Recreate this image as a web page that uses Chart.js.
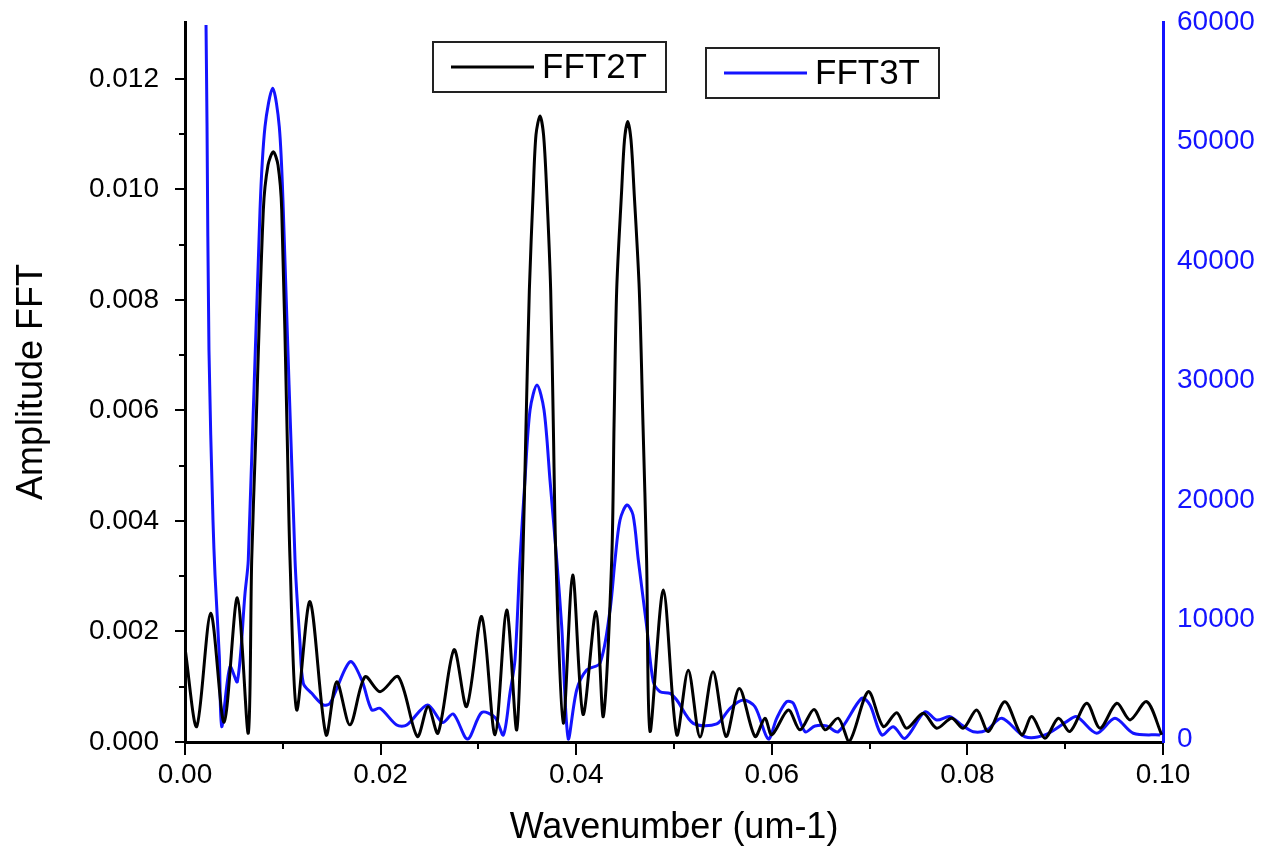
<!DOCTYPE html>
<html>
<head>
<meta charset="utf-8">
<title>FFT2T / FFT3T</title>
<script src="https://cdn.jsdelivr.net/npm/chart.js@4.4.1/dist/chart.umd.min.js"></script>
<style>
  html, body { margin: 0; padding: 0; background: #fff; }
  #wrap { width: 1264px; height: 853px; }
</style>
</head>
<body>
<div id="wrap"><canvas id="fftChart" width="1264" height="853"></canvas></div>
<script>
// --- Data ---
// FFT2T (left axis, black)
const fft2X = [0.0000, 0.0012, 0.00263, 0.0040, 0.00535, 0.00647, 0.00682, 0.00719, 0.00801, 0.00849,
  0.00903, 0.00951, 0.00989, 0.01048, 0.01074, 0.01142, 0.01278, 0.01442, 0.01551, 0.01687,
  0.01840, 0.01994, 0.02181, 0.02375, 0.02485, 0.02587, 0.02751, 0.02880, 0.03034, 0.03170,
  0.03289, 0.03392, 0.03454, 0.03487, 0.03521, 0.03561, 0.03589, 0.03630, 0.03666, 0.03698,
  0.03739, 0.03766, 0.03793, 0.03868, 0.03964, 0.04070, 0.04202, 0.04277, 0.04363, 0.04387,
  0.04414, 0.04465, 0.04494, 0.04527, 0.04560, 0.04591, 0.04645, 0.04683, 0.04720, 0.04755,
  0.04891, 0.05028, 0.05146, 0.05266, 0.05399, 0.05532, 0.05668, 0.05828, 0.05930, 0.06000,
  0.06169, 0.06288, 0.06431, 0.06544, 0.06680, 0.06793, 0.06987, 0.07140, 0.07277, 0.07379,
  0.07549, 0.07686, 0.07840, 0.07958, 0.08095, 0.08214, 0.08384, 0.08555, 0.08658, 0.08793,
  0.08930, 0.09049, 0.09220, 0.09356, 0.09527, 0.09663, 0.09833, 0.09987];
const fft2Y = [0.00170, 0.00028, 0.00233, 0.00036, 0.00261, 0.00016, 0.00329, 0.00529, 0.00963, 0.01044,
  0.01068, 0.01044, 0.00963, 0.00529, 0.00329, 0.00058, 0.00254, 0.00013, 0.00109, 0.00031,
  0.00118, 0.00091, 0.00118, 0.00010, 0.00064, 0.00016, 0.00167, 0.00064, 0.00227, 0.00013,
  0.00239, 0.00022, 0.00329, 0.00574, 0.00818, 0.00999, 0.01099, 0.01133, 0.01099, 0.00999,
  0.00818, 0.00574, 0.00329, 0.00034, 0.00302, 0.00050, 0.00236, 0.00046, 0.00329, 0.00574,
  0.00818, 0.00999, 0.01090, 0.01123, 0.01090, 0.00999, 0.00818, 0.00574, 0.00329, 0.00019,
  0.00275, 0.00013, 0.00130, 0.00009, 0.00127, 0.00010, 0.00097, 0.00010, 0.00043, 0.00013,
  0.00058, 0.00022, 0.00059, 0.00022, 0.00043, 0.00001, 0.00091, 0.00028, 0.00053, 0.00025,
  0.00052, 0.00025, 0.00043, 0.00025, 0.00058, 0.00019, 0.00073, 0.00013, 0.00046, 0.00007,
  0.00043, 0.00019, 0.00070, 0.00025, 0.00070, 0.00040, 0.00073, 0.00013];

// FFT3T (right axis, blue)
const fft3X = [0.00215, 0.00225, 0.00245, 0.00286, 0.00307, 0.00351, 0.00375, 0.0046, 0.00535, 0.00614,
  0.00647, 0.00767, 0.00818, 0.00897, 0.00964, 0.01005, 0.01125, 0.01176, 0.0121, 0.01296,
  0.01414, 0.01483, 0.01687, 0.01807, 0.01909, 0.01994, 0.02165, 0.02267, 0.0248, 0.02633,
  0.02743, 0.02889, 0.03034, 0.0317, 0.03255, 0.03323, 0.03374, 0.03425, 0.03476, 0.03528,
  0.03599, 0.03671, 0.03732, 0.03801, 0.03852, 0.03919, 0.04005, 0.04107, 0.04243, 0.04346,
  0.04397, 0.04448, 0.04519, 0.04581, 0.04635, 0.04721, 0.04788, 0.04857, 0.04959, 0.05028,
  0.05197, 0.05437, 0.05573, 0.05709, 0.05828, 0.05964, 0.0605, 0.06152, 0.0622, 0.0634,
  0.06442, 0.06561, 0.0668, 0.06919, 0.07004, 0.07124, 0.07242, 0.07362, 0.07566, 0.07686,
  0.07822, 0.07942, 0.0806, 0.08197, 0.08351, 0.08589, 0.08793, 0.09015, 0.09117, 0.09322,
  0.09509, 0.09696, 0.09969];
const fft3Y = [59750, 51550, 32550, 18330, 13720, 6890, 1030, 6050, 4800, 12220,
  14980, 44270, 51240, 54450, 51240, 44270, 14980, 8030, 4660, 3820,
  2850, 2990, 6470, 4940, 2430, 2570, 1170, 1170, 2850, 1380,
  2090, 0, 2220, 1800, 340, 3850, 6610, 14980, 21670, 27530,
  29620, 27530, 21670, 14980, 9400, 0, 4100, 5770, 6340, 10800,
  14980, 18330, 19580, 18740, 14980, 9400, 4800, 3960, 3820, 3260,
  1310, 1260, 2570, 3260, 2700, 0, 1730, 3120, 2990, 610,
  1090, 1090, 610, 3410, 2850, 340, 1030, 60, 2280, 1590,
  1870, 1170, 610, 750, 1730, 190, 340, 1450, 1870, 480,
  1730, 480, 340];

const seriesLabels = ['FFT2T', 'FFT3T'];
const xTicks = [0, 0.02, 0.04, 0.06, 0.08, 0.10];
const xMinorTicks = [0.01, 0.03, 0.05, 0.07, 0.09];
const yTicks = [0, 0.002, 0.004, 0.006, 0.008, 0.010, 0.012];
const yMinorTicks = [0.001, 0.003, 0.005, 0.007, 0.009, 0.011];
const y2Ticks = [0, 10000, 20000, 30000, 40000, 50000, 60000];

const BLUE = '#1414ff';
const FONT = "'Liberation Sans', Arial, sans-serif";

const toPoints = (xs, ys) => xs.map((x, i) => ({ x: x, y: ys[i] }));
const setTicks = list => scale => { scale.ticks = list.map(v => ({ value: v })); };
// fixed box size, and no extra room for labels hanging past the ends
const fixSize = (w, h) => s => {
    if (w) s.width = w;
    if (h) s.height = h;
    s.paddingTop = 0; s.paddingBottom = 0; s.paddingLeft = 0; s.paddingRight = 0;
};

// minor tick marks (Chart.js only draws one tick length)
const minorTicks = {
    id: 'minorTicks',
    afterDraw(chart) {
        const ctx = chart.ctx;
        const xs = chart.scales.x, ys = chart.scales.y;
        const area = chart.chartArea;
        ctx.save();
        ctx.strokeStyle = '#000';
        ctx.lineWidth = 2;
        ctx.beginPath();
        xMinorTicks.forEach(v => {
            const px = Math.round(xs.getPixelForValue(v));
            ctx.moveTo(px, area.bottom);
            ctx.lineTo(px, area.bottom + 7);
        });
        yMinorTicks.forEach(v => {
            const py = Math.round(ys.getPixelForValue(v));
            ctx.moveTo(area.left, py);
            ctx.lineTo(area.left - 6, py);
        });
        ctx.stroke();
        ctx.restore();
    }
};

// two separate framed legend boxes, as in the original figure
const legendBoxes = {
    id: 'legendBoxes',
    afterDraw(chart) {
        const ctx = chart.ctx;
        const boxes = [
            { x: 433, y: 42, w: 233, h: 50 },
            { x: 706, y: 48, w: 233, h: 50 }
        ];
        ctx.save();
        boxes.forEach((b, i) => {
            const ds = chart.data.datasets[i];
            ctx.fillStyle = '#fff';
            ctx.fillRect(b.x, b.y, b.w, b.h);
            ctx.strokeStyle = '#222';
            ctx.lineWidth = 2;
            ctx.strokeRect(b.x, b.y, b.w, b.h);
            const cy = b.y + b.h / 2;
            ctx.strokeStyle = ds.borderColor;
            ctx.lineWidth = 3;
            ctx.beginPath();
            ctx.moveTo(b.x + 18, cy);
            ctx.lineTo(b.x + 101, cy);
            ctx.stroke();
            ctx.fillStyle = '#000';
            ctx.font = '35px ' + FONT;
            ctx.textBaseline = 'middle';
            ctx.textAlign = 'left';
            ctx.fillText(ds.label, b.x + 109, cy + 1);
        });
        ctx.restore();
    }
};

const ctx = document.getElementById('fftChart').getContext('2d');
new Chart(ctx, {
    type: 'line',
    data: {
        datasets: [
            {
                label: seriesLabels[0],
                data: toPoints(fft2X, fft2Y),
                borderColor: '#000',
                borderWidth: 3,
                pointRadius: 0,
                tension: 0.3,
                yAxisID: 'y'
            },
            {
                label: seriesLabels[1],
                data: toPoints(fft3X, fft3Y),
                borderColor: BLUE,
                borderWidth: 3,
                pointRadius: 0,
                tension: 0.3,
                yAxisID: 'y2'
            }
        ]
    },
    options: {
        responsive: false,
        animation: false,
        layout: { padding: { top: 22, left: 0, right: 0, bottom: 0 } },
        plugins: {
            legend: { display: false },
            tooltip: { enabled: false }
        },
        scales: {
            x: {
                type: 'linear',
                min: 0,
                max: 0.1,
                afterBuildTicks: setTicks(xTicks),
                afterFit: fixSize(0, 111),
                border: { display: true, color: '#000', width: 3 },
                grid: { drawOnChartArea: false, drawTicks: true, tickLength: 13, color: '#000', lineWidth: 2 },
                ticks: {
                    color: '#000',
                    padding: 3,
                    maxRotation: 0,
                    font: { family: FONT, size: 28 },
                    callback: v => v.toFixed(2)
                },
                title: {
                    display: true,
                    text: 'Wavenumber (um-1)',
                    color: '#000',
                    padding: { top: 0, bottom: 3 },
                    font: { family: FONT, size: 36 }
                }
            },
            y: {
                position: 'left',
                min: 0,
                max: 0.01303,
                afterBuildTicks: setTicks(yTicks),
                afterFit: fixSize(185, 0),
                border: { display: true, color: '#000', width: 3 },
                grid: { drawOnChartArea: false, drawTicks: true, tickLength: 10, color: '#000', lineWidth: 2 },
                ticks: {
                    color: '#000',
                    padding: 16,
                    font: { family: FONT, size: 28 },
                    callback: v => v.toFixed(3)
                },
                title: {
                    display: true,
                    text: 'Amplitude FFT',
                    color: '#000',
                    padding: { top: 10, bottom: 0 },
                    font: { family: FONT, size: 36 }
                }
            },
            y2: {
                position: 'right',
                min: -251,
                max: 60000,
                afterBuildTicks: setTicks(y2Ticks),
                afterFit: fixSize(101, 0),
                border: { display: true, color: BLUE, width: 3 },
                grid: { display: false, drawOnChartArea: false, drawTicks: false },
                ticks: {
                    color: BLUE,
                    padding: 14,
                    font: { family: FONT, size: 28 },
                    callback: v => String(v)
                }
            }
        }
    },
    plugins: [minorTicks, legendBoxes]
});
</script>
</body>
</html>
